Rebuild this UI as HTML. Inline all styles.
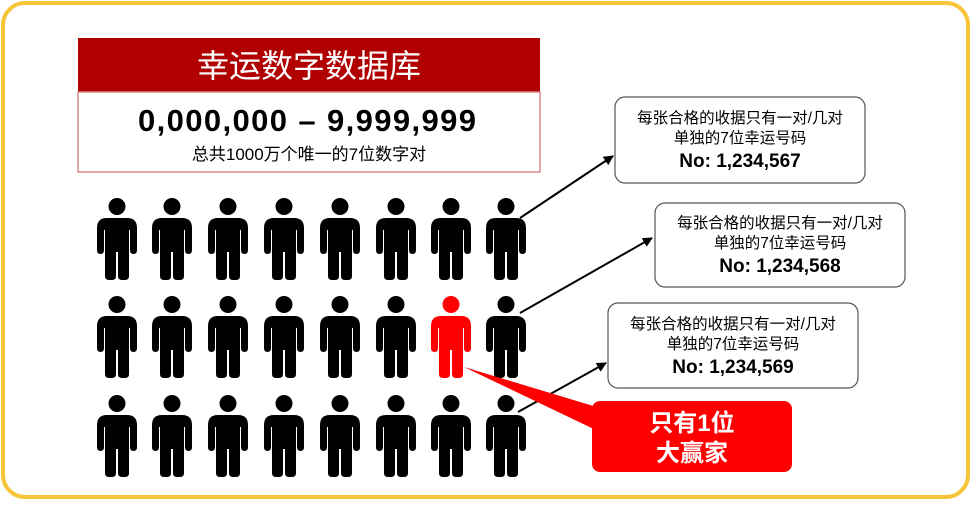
<!DOCTYPE html>
<html><head><meta charset="utf-8"><style>
body{margin:0;background:#fff;width:971px;height:500px;overflow:hidden;font-family:"Liberation Sans","Noto Sans CJK SC",sans-serif}
</style></head><body>
<svg width="971" height="500" viewBox="0 0 971 500" xmlns="http://www.w3.org/2000/svg" font-family="Liberation Sans, Noto Sans CJK SC, sans-serif">
<defs>
<g id="p"><circle cx="20" cy="8.5" r="8.5"/><path d="M10,20 H30 Q40,20 40,30 V52 Q40,56 36.5,56 Q33,56 33,52 V32 H32 V78 Q32,82 28,82 H25 Q21,82 21,78 V54 H19 V78 Q19,82 15,82 H12 Q8,82 8,78 V32 H7 V52 Q7,56 3.5,56 Q0,56 0,52 V30 Q0,20 10,20 Z"/></g>
<marker id="a" markerWidth="10" markerHeight="10" refX="9" refY="5" orient="auto" markerUnits="userSpaceOnUse"><path d="M0,0 L10,5 L0,10 Z" fill="#000"/></marker>
</defs>
<rect x="3" y="3" width="965" height="494" rx="22" fill="#fff" stroke="#f6c53a" stroke-width="4"/>
<rect x="78" y="38" width="462" height="54" fill="#b00000"/>
<text x="309" y="77" font-size="32" fill="#fff" text-anchor="middle">幸运数字数据库</text>
<rect x="78" y="92" width="462" height="80" fill="#fff" stroke="#d88a8a" stroke-width="1.5"/>
<text x="138" y="131" font-size="31" font-weight="bold" textLength="338" lengthAdjust="spacing">0,000,000 – 9,999,999</text>
<text x="309" y="160" font-size="17" text-anchor="middle">总共1000万个唯一的7位数字对</text>
<g fill="#000">
<use href="#p" x="97" y="198"/><use href="#p" x="152" y="198"/><use href="#p" x="208" y="198"/><use href="#p" x="264" y="198"/><use href="#p" x="320" y="198"/><use href="#p" x="376" y="198"/><use href="#p" x="431" y="198"/><use href="#p" x="486" y="198"/>
<use href="#p" x="97" y="296"/><use href="#p" x="152" y="296"/><use href="#p" x="208" y="296"/><use href="#p" x="264" y="296"/><use href="#p" x="320" y="296"/><use href="#p" x="376" y="296"/><use href="#p" x="486" y="296"/>
<use href="#p" x="97" y="395"/><use href="#p" x="152" y="395"/><use href="#p" x="208" y="395"/><use href="#p" x="264" y="395"/><use href="#p" x="320" y="395"/><use href="#p" x="376" y="395"/><use href="#p" x="431" y="395"/><use href="#p" x="486" y="395"/>
</g>
<use href="#p" x="431" y="296" fill="#ff0000"/>
<g stroke="#000" stroke-width="2" marker-end="url(#a)">
<line x1="520" y1="218" x2="613" y2="156"/>
<line x1="520" y1="313" x2="652" y2="238"/>
<line x1="518" y1="412" x2="606" y2="363"/>
</g>
<g fill="#fff" stroke="#555" stroke-width="1.2">
<rect x="615" y="97" width="250" height="86" rx="10"/>
<rect x="655" y="203" width="250" height="84" rx="10"/>
<rect x="608" y="303" width="250" height="85" rx="10"/>
</g>
<g font-size="15.5" text-anchor="middle">
<text x="740" y="123">每张合格的收据只有一对/几对</text><text x="740" y="143">单独的7位幸运号码</text><text x="740" y="167" font-size="19" font-weight="bold">No: 1,234,567</text>
<text x="780" y="228">每张合格的收据只有一对/几对</text><text x="780" y="248">单独的7位幸运号码</text><text x="780" y="272" font-size="19" font-weight="bold">No: 1,234,568</text>
<text x="733" y="329">每张合格的收据只有一对/几对</text><text x="733" y="349">单独的7位幸运号码</text><text x="733" y="373" font-size="19" font-weight="bold">No: 1,234,569</text>
</g>
<path d="M464,367 L600,408 L600,432 Z" fill="#ff0000"/>
<rect x="592" y="401" width="200" height="71" rx="8" fill="#ff0000"/>
<text x="692" y="431" font-size="24" font-weight="bold" fill="#fff" text-anchor="middle">只有1位</text>
<text x="692" y="461" font-size="24" font-weight="bold" fill="#fff" text-anchor="middle">大赢家</text>
</svg>
</body></html>
